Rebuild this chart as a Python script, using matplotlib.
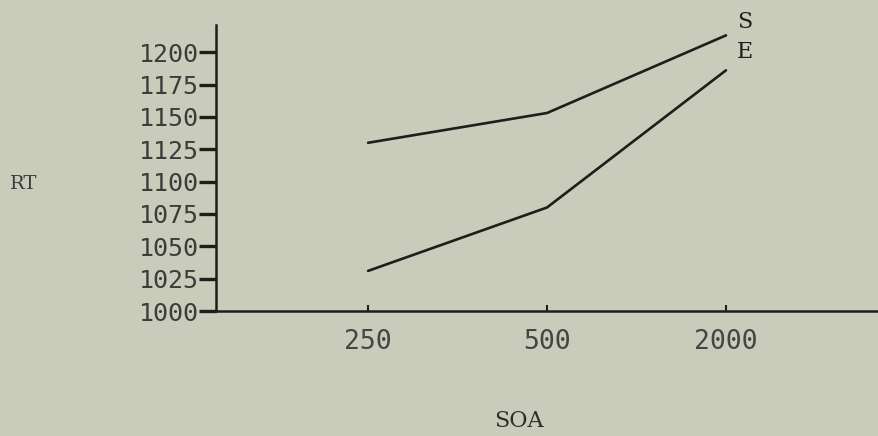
import matplotlib
matplotlib.use("Agg")
import matplotlib.pyplot as plt

soa_labels = ["250", "500", "2000"]
series_S = [1130, 1153, 1213]
series_E = [1031, 1080, 1186]
y_ticks = [1000, 1025, 1050, 1075, 1100, 1125, 1150, 1175, 1200]

bg = "#c9ccba"
ink = "#1e1e1c"
mono = ["DejaVu Sans Mono"]
serif = ["DejaVu Serif"]

fig = plt.figure(figsize=(8.79, 4.36), dpi=100, facecolor=bg)
ax = fig.add_axes([216 / 879, 1 - 311 / 436, 1 - 216 / 879, (311 - 25) / 436])
ax.set_facecolor(bg)

x = list(range(len(soa_labels)))
ax.plot(x, series_S, color=ink, lw=1.9, solid_capstyle="round")
ax.plot(x, series_E, color=ink, lw=1.9, solid_capstyle="round")

ax.set_xlim(-0.85, 2.855)
ax.set_ylim(1000, 1221)

for s in ["top", "right"]:
    ax.spines[s].set_visible(False)
for s in ["left", "bottom"]:
    ax.spines[s].set_color(ink)
    ax.spines[s].set_linewidth(1.8)

ax.set_yticks(y_ticks)
ax.set_yticklabels([str(v) for v in y_ticks], family=mono, fontsize=18, color="#3c3c3a")
ax.tick_params(axis="y", direction="out", length=12, width=2.4, color=ink, pad=0)

ax.set_xticks(x)
ax.set_xticklabels(soa_labels, family=mono, fontsize=19, color="#454543")
ax.tick_params(axis="x", direction="in", length=4, width=1.5, color=ink, pad=13)

ax.text(x[-1] + 0.06, series_S[-1] + 10, "S", family=serif, fontsize=16,
        color=ink, ha="left", va="center")
ax.text(x[-1] + 0.06, series_S[-1] - 13, "E", family=serif, fontsize=16,
        color=ink, ha="left", va="center")

fig.text(24 / 879, 1 - 184 / 436, "RT", family=serif, fontsize=14,
         color="#3a3a38", ha="center", va="center")
fig.text(519 / 879, 1 - 421 / 436, "SOA", family=serif, fontsize=16,
         color="#2e2e2c", ha="center", va="center")

fig.savefig("out.png", dpi=100, facecolor=bg)
